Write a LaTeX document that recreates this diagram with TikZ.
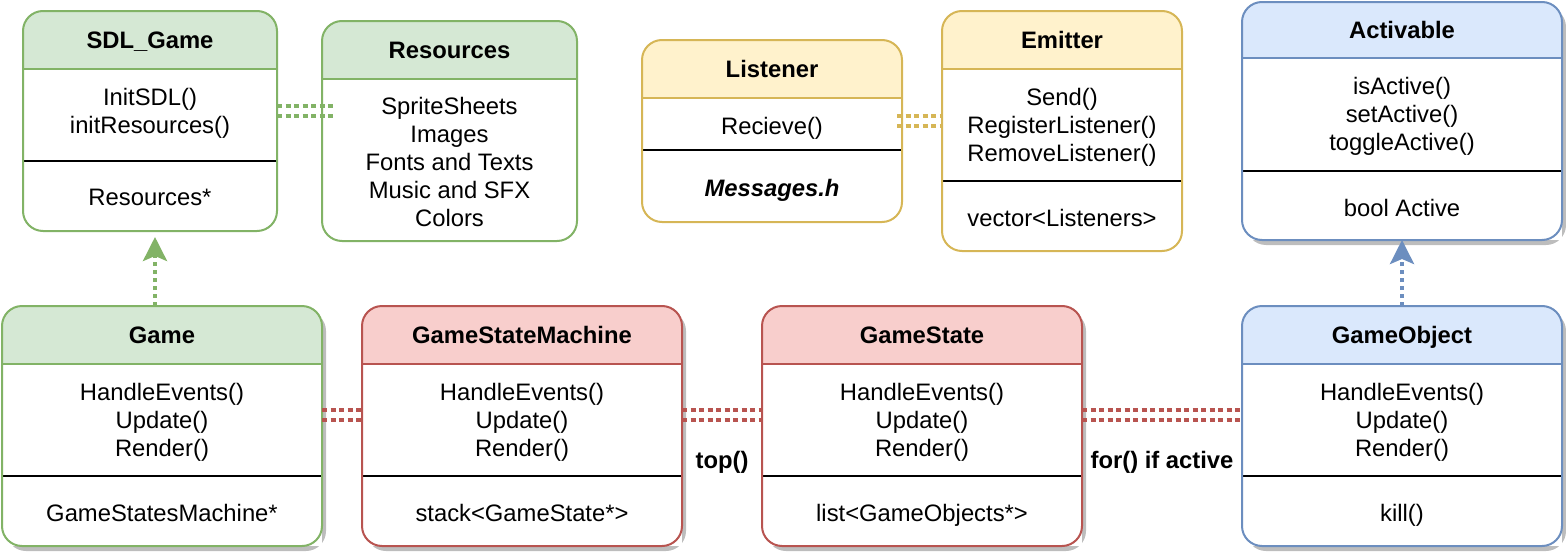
\documentclass[tikz,border=0pt]{standalone}
\usepackage{fontspec}
\setmainfont{Liberation Sans}
\usetikzlibrary{arrows.meta}
\definecolor{gfill}{HTML}{D5E8D4}\definecolor{gline}{HTML}{82B366}
\definecolor{rfill}{HTML}{F8CECC}\definecolor{rline}{HTML}{B85450}
\definecolor{yfill}{HTML}{FFF2CC}\definecolor{yline}{HTML}{D6B656}
\definecolor{bfill}{HTML}{DAE8FC}\definecolor{bline}{HTML}{6C8EBF}
\definecolor{shadowc}{HTML}{BDBDBD}
\tikzset{
  boxbody/.style={rectangle, fill=white, draw=none, inner sep=0pt, outer sep=0pt},
  boxline/.style={line width=2pt},
  seprule/.style={line width=2pt, black},
  txt/.style={font=\fontsize{23.8}{28}\selectfont, inner sep=0pt, anchor=base, text=black},
  ttl/.style={txt, font=\fontsize{23.8}{28}\selectfont\bfseries},
  link/.style={line width=3.8pt, dash pattern=on 5pt off 3.5pt},
  uarrow/.style={line width=3.8pt, dash pattern=on 4pt off 4pt, -{Stealth[length=24pt, width=24pt, inset=5pt]}},
}
\newcommand{\crad}{20pt}
% name, x1, y1, x2, y2, header bottom, separator (or empty), fill, line
\newcommand{\umlbox}[9]{%
  \node[boxbody, minimum width={(#4-#2)*1pt}, minimum height={(#5-#3)*1pt}] (#1) at ({(#2+#4)/2},{(#3+#5)/2}) {};
  \fill[#8] (#2,#6) [rounded corners=\crad] -- (#2,#3) -- (#4,#3) [sharp corners] -- (#4,#6) -- cycle;
  \draw[#9, boxline] (#2,#6) -- (#4,#6);
  \if\relax\detokenize{#7}\relax\else\draw[seprule] (#2,#7) -- (#4,#7);\fi
  \draw[#9, boxline, rounded corners=\crad] (#2,#3) rectangle (#4,#5);
}
\newcommand{\umlshadow}[4]{\fill[shadowc, rounded corners=\crad] ({#1+4},{#2+5}) rectangle ({#3+4},{#4+5});}
\newcommand{\umltext}[4]{\node[txt] (#1) at (#2,{#3+8}) {#4};}
\newcommand{\umltitle}[4]{\node[ttl] (#1) at (#2,{#3+8}) {#4};}
\begin{document}
\begin{tikzpicture}[x=1pt, y=-1pt]
\useasboundingbox (0,0) rectangle (1566,554);

% ---------- top row ----------
\umlbox{sdl}{23}{11}{277}{231}{69}{161}{gfill}{gline}
\umltitle{sdlT}{150}{40}{SDL\_Game}
\umltext{sdlA}{150}{97}{InitSDL()}
\umltext{sdlB}{150}{125}{initResources()}
\umltext{sdlC}{150}{197}{Resources*}

\umlbox{res}{322}{21}{577}{241}{79}{}{gfill}{gline}
\umltitle{resT}{449.5}{50}{Resources}
\umltext{resA}{449.5}{106}{SpriteSheets}
\umltext{resB}{449.5}{134}{Images}
\umltext{resC}{449.5}{162}{Fonts and Texts}
\umltext{resD}{449.5}{190}{Music and SFX}
\umltext{resE}{449.5}{218}{Colors}

\umlbox{lis}{642}{40}{902}{222}{98}{150}{yfill}{yline}
\umltitle{lisT}{772}{69}{Listener}
\umltext{lisA}{772}{126}{Recieve()}
\node[txt, font=\fontsize{23.8}{28}\selectfont\bfseries\itshape] (lisB) at (772,{188+8}) {Messages.h};

\umlbox{emi}{942}{11}{1182}{251}{69}{181}{yfill}{yline}
\umltitle{emiT}{1062}{40}{Emitter}
\umltext{emiA}{1062}{97}{Send()}
\umltext{emiB}{1062}{125}{RegisterListener()}
\umltext{emiC}{1062}{153}{RemoveListener()}
\umltext{emiD}{1062}{218}{vector<Listeners>}

\umlshadow{1242}{2}{1562}{240}
\umlbox{act}{1242}{2}{1562}{240}{58}{171}{bfill}{bline}
\umltitle{actT}{1402}{30}{Activable}
\umltext{actA}{1402}{86}{isActive()}
\umltext{actB}{1402}{114}{setActive()}
\umltext{actC}{1402}{142}{toggleActive()}
\umltext{actD}{1402}{208}{bool Active}

% ---------- bottom row ----------
\umlshadow{2}{306}{322}{546}
\umlbox{game}{2}{306}{322}{546}{364}{476}{gfill}{gline}
\umltitle{gameT}{162}{335}{Game}
\umltext{gameA}{162}{392}{HandleEvents()}
\umltext{gameB}{162}{420}{Update()}
\umltext{gameC}{162}{448}{Render()}
\umltext{gameD}{162}{513}{GameStatesMachine*}

\umlshadow{362}{306}{682}{546}
\umlbox{gsm}{362}{306}{682}{546}{364}{476}{rfill}{rline}
\umltitle{gsmT}{522}{335}{GameStateMachine}
\umltext{gsmA}{522}{392}{HandleEvents()}
\umltext{gsmB}{522}{420}{Update()}
\umltext{gsmC}{522}{448}{Render()}
\umltext{gsmD}{522}{513}{stack<GameState*>}

\umlshadow{762}{306}{1082}{546}
\umlbox{gs}{762}{306}{1082}{546}{364}{476}{rfill}{rline}
\umltitle{gsT}{922}{335}{GameState}
\umltext{gsA}{922}{392}{HandleEvents()}
\umltext{gsB}{922}{420}{Update()}
\umltext{gsC}{922}{448}{Render()}
\umltext{gsD}{922}{513}{list<GameObjects*>}

\umlshadow{1242}{306}{1562}{546}
\umlbox{go}{1242}{306}{1562}{546}{364}{476}{bfill}{bline}
\umltitle{goT}{1402}{335}{GameObject}
\umltext{goA}{1402}{392}{HandleEvents()}
\umltext{goB}{1402}{420}{Update()}
\umltext{goC}{1402}{448}{Render()}
\umltext{goD}{1402}{513}{kill()}

% ---------- connectors ----------
\coordinate (sa) at ([yshift=15pt]sdl.east);
\coordinate (sb) at ([yshift=5pt]sdl.east);
\draw[link, gline, shorten >=-13pt] (sa) -- (sa -| res.west);
\draw[link, gline, shorten >=-13pt] (sb) -- (sb -| res.west);

\draw[link, yline, shorten <=-5pt] ([yshift=15pt]lis.east) -- ([yshift=15pt]emi.west);
\draw[link, yline, shorten <=-5pt] ([yshift=5pt]lis.east) -- ([yshift=5pt]emi.west);

\foreach \a/\b in {game/gsm, gsm/gs, gs/go}{
  \draw[link, rline] ([yshift=16pt]\a.east) -- ([yshift=16pt]\b.west);
  \draw[link, rline] ([yshift=6pt]\a.east) -- ([yshift=6pt]\b.west);
}

\coordinate (ga) at (155,237);
\draw[uarrow, gline] (game.north -| ga) -- (ga);
\draw[uarrow, bline] (go.north) -- (go.north |- act.south);

% ---------- labels ----------
\node[ttl] (lblTop) at (722,{460+8}) {top()};
\node[ttl] (lblFor) at (1162,{460+8}) {for() if active};
\end{tikzpicture}
\end{document}
